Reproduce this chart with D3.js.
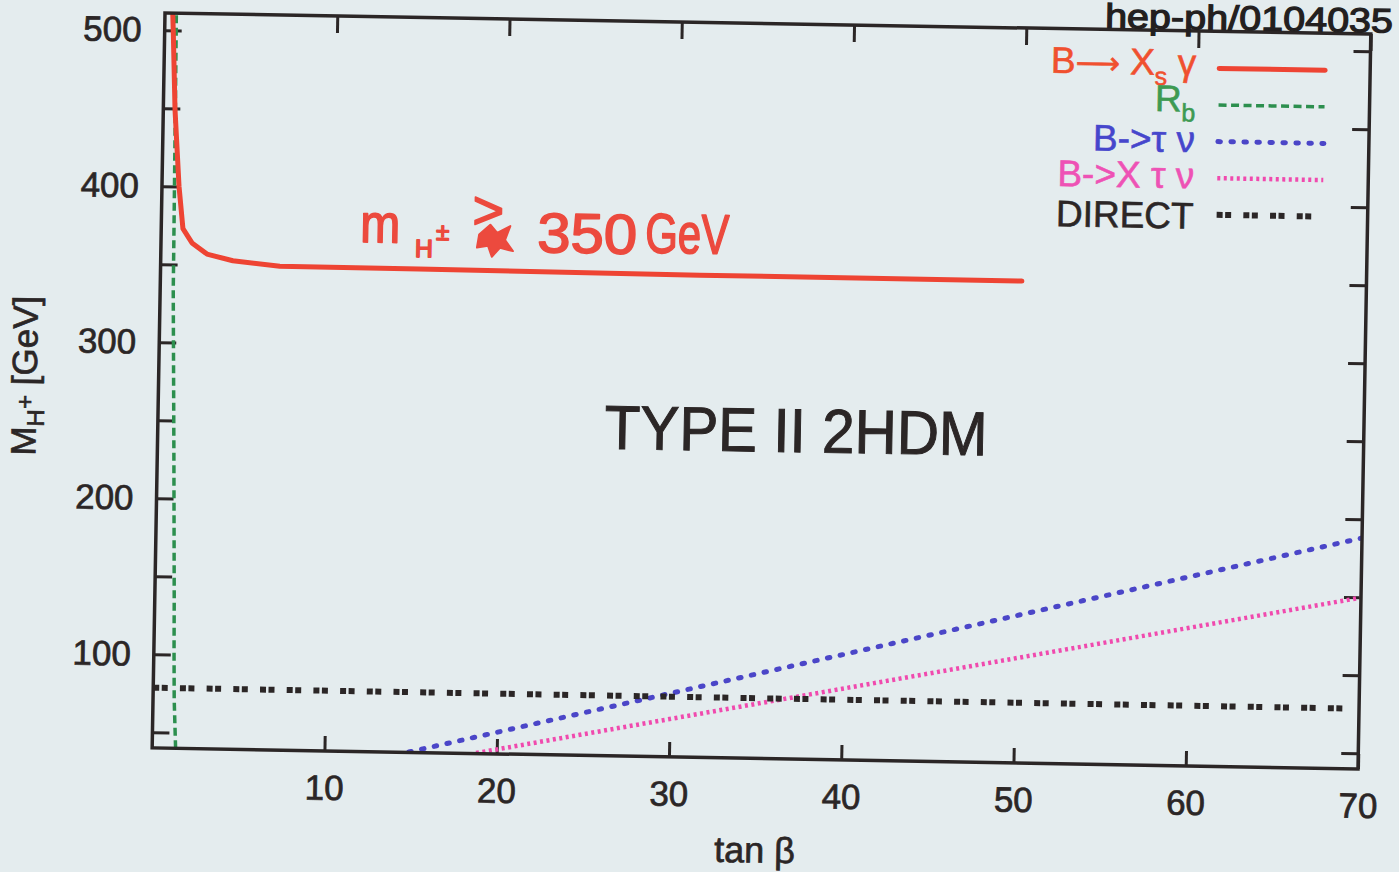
<!DOCTYPE html>
<html>
<head>
<meta charset="utf-8">
<script src="https://cdn.jsdelivr.net/npm/d3@7"></script>
<style>
  html, body { margin: 0; padding: 0; background: #e4ecee; overflow: hidden; }
  svg { display: block; }
  text { font-family: "Liberation Sans", Arial, Helvetica, sans-serif; }
</style>
</head>
<body>
<svg id="chart" width="1399" height="872"></svg>
<script>
// Charged Higgs mass limits in the type II two-Higgs-doublet model, M_H+ versus tan(beta)

const xTicks = [10, 20, 30, 40, 50, 60, 70];
const yTicks = [50, 100, 150, 200, 250, 300, 350, 400, 450, 500];
const yLabels = [100, 200, 300, 400, 500];

// B -> X_s gamma
const bsgTan  = [0.45, 0.50, 0.68, 0.99, 1.26, 1.80, 2.68, 4.19, 6.92, 15.0, 31.3, 50.0];
const bsgMass = [511, 499, 449, 400, 373, 364, 357, 353, 350, 349.8, 349.0, 348.8];

// R_b
const rbTan  = [1.36, 1.23, 1.17, 1.13, 0.96, 0.76, 0.74, 0.68, 0.66];
const rbMass = [40, 71, 103, 135, 230, 333, 374, 480, 511];

// B -> tau nu
const btnTan  = [14.9, 70];
const btnMass = [40.2, 188];

// B -> X tau nu
const bxtnTan  = [18.8, 70];
const bxtnMass = [40.3, 149.8];

// direct search limit
const directTan  = [0, 69.5];
const directMass = [78.6, 78.6];

// legend labels: [text, role] pieces (0 normal, 1 subscript, 2 arrow)
const legendLabels = [
  [["B", 0], ["\u27f6", 2], [" X", 0], ["s", 1], [" \u03b3", 0]],
  [["R", 0], ["b", 1]],
  [["B->\u03c4 \u03bd", 0]],
  [["B->X \u03c4 \u03bd", 0]],
  [["DIRECT", 0]]
];

const series = [
  { tan: rbTan,     mass: rbMass,     color: "#2c8f4e", text: "#3d9a52", width: 3.5, dash: "8,4.5",        cap: "butt"  },
  { tan: bsgTan,    mass: bsgMass,    color: "#ee4433", text: "#f0502f", width: 5,   dash: null,           cap: "round" },
  { tan: btnTan,    mass: btnMass,    color: "#4b46c8", text: "#4646cc", width: 5,   dash: "2.5,10.5",     cap: "round" },
  { tan: bxtnTan,   mass: bxtnMass,   color: "#f04aae", text: "#ee52b5", width: 4.5, dash: "3,3.5",        cap: "butt"  },
  { tan: directTan, mass: directMass, color: "#2b2626", text: "#2b2626", width: 6,   dash: "6,2.5,6,12.2", cap: "butt"  }
];
// legend order: B->Xs gamma, R_b, B->tau nu, B->X tau nu, DIRECT
const legendOrder = [1, 0, 2, 3, 4];
const legendBaseline = [7.4, 7, 11, 10.5, 14.2];

const W = 1206, H = 735;
const ink = "#2b2626";

const svg = d3.select("#chart");
svg.append("rect").attr("width", 1399).attr("height", 872).attr("fill", "#e4ecee");

const g = svg.append("g").attr("transform", "translate(165,13) rotate(1)");

const x = d3.scaleLinear().domain([0, 70]).range([0, W]);
const y = d3.scaleLinear().domain([40, 511]).range([H, 0]);

g.append("defs").append("clipPath").attr("id", "plot")
  .append("rect").attr("width", W).attr("height", H);

// axes with inward ticks
function styleAxis(sel) {
  sel.select(".domain").remove();
  sel.selectAll(".tick line").attr("stroke", ink).attr("stroke-width", 3);
  sel.selectAll(".tick text").attr("fill", ink).attr("font-size", 35)
    .attr("stroke", ink).attr("stroke-width", 0.7)
    .style("font-family", '"Liberation Sans", Arial, sans-serif');
}

g.append("g").attr("transform", `translate(0,${H})`)
  .call(d3.axisBottom(x).tickValues(xTicks).tickSize(-15).tickPadding(24).tickFormat(d3.format("d")))
  .call(styleAxis);

g.append("g")
  .call(d3.axisTop(x).tickValues(xTicks).tickSize(-17).tickFormat(""))
  .call(styleAxis);

g.append("g")
  .call(d3.axisLeft(y).tickValues(yTicks).tickSize(-17).tickPadding(23)
    .tickFormat(d => yLabels.includes(d) ? d : ""))
  .call(styleAxis);

g.append("g").attr("transform", `translate(${W},0)`)
  .call(d3.axisRight(y).tickValues(yTicks).tickSize(-17).tickFormat(""))
  .call(styleAxis);

// curves
const line = d3.line().x(d => x(d[0])).y(d => y(d[1]));
const curves = g.append("g").attr("clip-path", "url(#plot)");
series.forEach(s => {
  curves.append("path")
    .datum(s.tan.map((t, i) => [t, s.mass[i]]))
    .attr("d", line)
    .attr("fill", "none")
    .attr("stroke", s.color)
    .attr("stroke-width", s.width)
    .attr("stroke-linecap", s.cap)
    .attr("stroke-linejoin", "round")
    .attr("stroke-dasharray", s.dash);
});

// frame
g.append("rect").attr("width", W).attr("height", H)
  .attr("fill", "none").attr("stroke", ink).attr("stroke-width", 3.5);

// legend
const legend = g.append("g");
legendOrder.forEach((si, row) => {
  const s = series[si];
  const ly = 37 + row * 36.6;
  legend.append("line")
    .attr("x1", 1055).attr("x2", 1161).attr("y1", ly).attr("y2", ly)
    .attr("stroke", s.color).attr("stroke-width", s.width)
    .attr("stroke-linecap", s.cap)
    .attr("stroke-dasharray", s.dash);
  const t = legend.append("text")
    .attr("x", 1032).attr("y", ly + legendBaseline[row])
    .attr("text-anchor", "end").attr("font-size", 37)
    .attr("fill", s.text).attr("stroke", s.text).attr("stroke-width", 0.6);
  let shifted = false;
  legendLabels[row].forEach(([str, role]) => {
    const ts = t.append("tspan").text(str);
    if (role === 1) { ts.attr("font-size", 25).attr("dy", 10); shifted = true; }
    else if (shifted) { ts.attr("dy", -10); shifted = false; }
    if (role === 2) ts.style("font-family", '"DejaVu Sans", sans-serif').attr("font-size", 31);
  });
});

// model label
g.append("text")
  .attr("x", x(37.05)).attr("y", 428)
  .attr("text-anchor", "middle").attr("font-size", 62)
  .attr("fill", ink).attr("stroke", ink).attr("stroke-width", 1)
  .attr("textLength", 383).attr("lengthAdjust", "spacingAndGlyphs")
  .text("TYPE II 2HDM");

// axis titles
g.append("text")
  .attr("x", 604).attr("y", 839)
  .attr("text-anchor", "middle").attr("font-size", 36)
  .attr("fill", ink).attr("stroke", ink).attr("stroke-width", 0.7)
  .text("tan \u03b2");

const yt = g.append("text")
  .attr("transform", "translate(-122,365) rotate(-90)")
  .attr("text-anchor", "middle").attr("font-size", 35)
  .attr("fill", ink).attr("stroke", ink).attr("stroke-width", 0.7);
yt.append("tspan").text("M");
yt.append("tspan").text("H").attr("font-size", 24).attr("dy", 8);
yt.append("tspan").text("+").attr("font-size", 24).attr("dy", -11);
yt.append("tspan").text(" [GeV]").attr("dy", 3);

// handwritten notes
const red = "#ec4a3e";
const note = g.append("g").attr("fill", red).attr("stroke", red)
  .attr("stroke-width", 1.6).attr("stroke-linejoin", "round");
note.append("text").attr("x", 199).attr("y", 225.6).attr("font-size", 54)
  .attr("textLength", 40).attr("lengthAdjust", "spacingAndGlyphs").text("m");
note.append("text").attr("x", 254).attr("y", 239.6).attr("font-size", 25).text("H");
note.append("text").attr("x", 275).attr("y", 222.3).attr("font-size", 24).text("\u00b1");
note.append("text").attr("x", 311).attr("y", 210).attr("font-size", 54).text(">");
note.append("path")
  .attr("d", "M318,216 L329,206 L336,214 L349,207 L344,221 L352,232 L339,229 L331,238 L327,227 L316,229 Z")
  .attr("stroke-width", 2);
note.append("text").attr("x", 376).attr("y", 232.5).attr("font-size", 56)
  .attr("textLength", 100).attr("lengthAdjust", "spacingAndGlyphs").text("350");
note.append("text").attr("x", 484).attr("y", 231).attr("font-size", 56)
  .attr("textLength", 84).attr("lengthAdjust", "spacingAndGlyphs").text("GeV");

g.append("text")
  .attr("x", 940).attr("y", -1.9).attr("font-size", 34)
  .attr("fill", "#231f1f").attr("stroke", "#231f1f").attr("stroke-width", 1.2)
  .attr("textLength", 288).attr("lengthAdjust", "spacingAndGlyphs")
  .text("hep-ph/0104035");
</script>
</body>
</html>
